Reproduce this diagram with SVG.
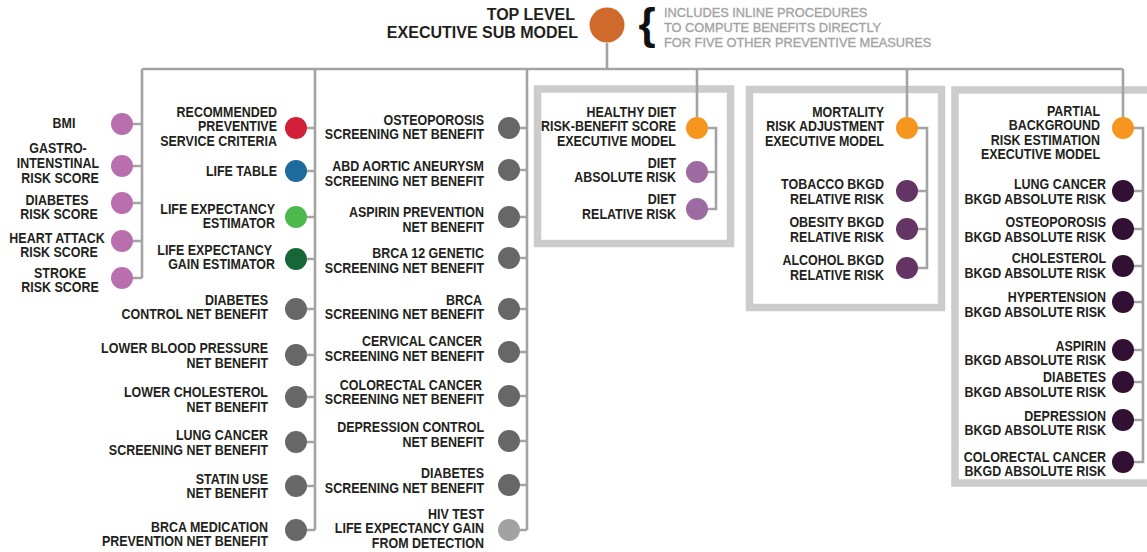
<svg xmlns="http://www.w3.org/2000/svg" width="1147" height="552" viewBox="0 0 1147 552">
  <style>
    text { font-family: "Liberation Sans", Arial, sans-serif; font-weight: bold; font-size: 14.5px; fill: #231f20; text-anchor: end;
           transform-box: fill-box; transform-origin: 100% 50%; transform: scaleX(0.86); }
    .mid { text-anchor: middle; transform-origin: 50% 50%; }
    .title { font-size: 16px; transform: none; }
    .note { font-weight: normal; font-size: 12.8px; fill: #a3a3a3; stroke: #a3a3a3; stroke-width: 0.35; text-anchor: start; transform: none; }
    .brace { font-weight: bold; font-size: 44px; fill: #111; text-anchor: middle; transform: none; }
    .conn { stroke: #a3a3a3; stroke-width: 2.6; fill: none; }
    .box { stroke: #cccccc; stroke-width: 7.5; fill: none; }
    .top { fill: #cf6a2c; }
    .pink { fill: #b96fae; }
    .red { fill: #d2203b; }
    .blue { fill: #1d6a9d; }
    .lgreen { fill: #4cb84d; }
    .dgreen { fill: #176637; }
    .gray { fill: #676767; }
    .lgray { fill: #a2a2a2; }
    .orange { fill: #f7961e; }
    .plum { fill: #9c6b9f; }
    .purple { fill: #633464; }
    .dark { fill: #321034; }
  </style>

  <!-- frames around the three executive sub-models -->
  <g id="frames">
    <rect class="box" x="537.5" y="89" width="193" height="154.5"/>
    <rect class="box" x="749.5" y="89.5" width="192" height="218"/>
    <rect class="box" x="955" y="90" width="230" height="393"/>
  </g>

  <!-- connectors -->
  <g id="connectors">
    <path class="conn" d="M607,43 V69 M142,69 H1123"/>
    <!-- column 1 -->
    <path class="conn" d="M142,69 V278 M133,124 H142 M133,166 H142 M133,203 H142 M133,241 H142 M133,278 H142"/>
    <!-- column 2 -->
    <path class="conn" d="M315,69 V530 M307,128 H315 M307,171 H315 M307,217 H315 M307,259 H315 M307,309 H315 M307,355 H315 M307,397 H315 M307,442 H315 M307,486 H315 M307,530 H315"/>
    <!-- column 3 -->
    <path class="conn" d="M527,69 V530 M520,128 H527 M520,170 H527 M520,217 H527 M520,258 H527 M520,309 H527 M520,352 H527 M520,396 H527 M520,441 H527 M520,485 H527 M520,530 H527"/>
    <!-- healthy diet -->
    <path class="conn" d="M697,69 V117 M708,128 H716 V209 H708 M708,172 H716"/>
    <!-- mortality -->
    <path class="conn" d="M907,69 V117 M918,128 H927 V268 H918 M918,191 H927 M918,229 H927"/>
    <!-- partial background -->
    <path class="conn" d="M1123,69 V117 M1134,128 H1143 V462 H1134 M1134,191 H1143 M1134,229 H1143 M1134,266 H1143 M1134,302 H1143 M1134,350 H1143 M1134,382 H1143 M1134,420 H1143"/>
  </g>

  <!-- top level -->
  <g id="top-level">
    <circle class="top" cx="607" cy="25" r="17.5"/>
    <text class="title" x="575" y="20">TOP LEVEL</text>
    <text class="title" x="578" y="38">EXECUTIVE SUB MODEL</text>
  </g>
  <g id="top-note">
    <text class="brace" x="647" y="39">{</text>
    <text class="note" x="664" y="17">INCLUDES INLINE PROCEDURES</text>
    <text class="note" x="664" y="32">TO COMPUTE BENEFITS DIRECTLY</text>
    <text class="note" x="664" y="47">FOR FIVE OTHER PREVENTIVE MEASURES</text>
  </g>

  <!-- column 1: risk scores -->
  <g id="bmi"><circle class="pink" cx="122" cy="124" r="11"/><text class="mid" x="64" y="128">BMI</text></g>
  <g id="gastro"><circle class="pink" cx="122" cy="166" r="11"/><text class="mid" x="58" y="153">GASTRO-</text><text class="mid" x="58" y="168">INTENSTINAL</text><text class="mid" x="60" y="183">RISK SCORE</text></g>
  <g id="diabetes-risk"><circle class="pink" cx="122" cy="203" r="11"/><text class="mid" x="57" y="205">DIABETES</text><text class="mid" x="59" y="219.5">RISK SCORE</text></g>
  <g id="heart-attack-risk"><circle class="pink" cx="122" cy="241" r="11"/><text class="mid" x="57" y="243">HEART ATTACK</text><text class="mid" x="59" y="257.5">RISK SCORE</text></g>
  <g id="stroke-risk"><circle class="pink" cx="122" cy="278" r="11"/><text class="mid" x="60" y="278">STROKE</text><text class="mid" x="60" y="292.5">RISK SCORE</text></g>

  <!-- column 2 -->
  <g id="recommended-criteria"><circle class="red" cx="296" cy="128" r="11"/><text x="277" y="117">RECOMMENDED</text><text x="277" y="131.5">PREVENTIVE</text><text x="277" y="146">SERVICE CRITERIA</text></g>
  <g id="life-table"><circle class="blue" cx="296" cy="171" r="11"/><text x="277" y="176">LIFE TABLE</text></g>
  <g id="le-estimator"><circle class="lgreen" cx="296" cy="217" r="11"/><text x="275" y="214">LIFE EXPECTANCY</text><text x="275" y="228.5">ESTIMATOR</text></g>
  <g id="le-gain-estimator"><circle class="dgreen" cx="296" cy="259" r="11"/><text x="272" y="255">LIFE EXPECTANCY</text><text x="275" y="269.5">GAIN ESTIMATOR</text></g>
  <g id="diabetes-control"><circle class="gray" cx="296" cy="309" r="11"/><text x="268" y="305">DIABETES</text><text x="268" y="319.5">CONTROL NET BENEFIT</text></g>
  <g id="lower-bp"><circle class="gray" cx="296" cy="355" r="11"/><text x="268" y="353.5">LOWER BLOOD PRESSURE</text><text x="268" y="368">NET BENEFIT</text></g>
  <g id="lower-cholesterol"><circle class="gray" cx="296" cy="397" r="11"/><text x="268" y="397.5">LOWER CHOLESTEROL</text><text x="268" y="412">NET BENEFIT</text></g>
  <g id="lung-screening"><circle class="gray" cx="296" cy="442" r="11"/><text x="268" y="440.5">LUNG CANCER</text><text x="268" y="455">SCREENING NET BENEFIT</text></g>
  <g id="statin-use"><circle class="gray" cx="296" cy="486" r="11"/><text x="268" y="484">STATIN USE</text><text x="268" y="498.5">NET BENEFIT</text></g>
  <g id="brca-medication"><circle class="gray" cx="296" cy="530" r="11"/><text x="268" y="532">BRCA MEDICATION</text><text x="268" y="546.5">PREVENTION NET BENEFIT</text></g>

  <!-- column 3 -->
  <g id="osteoporosis-screening"><circle class="gray" cx="509" cy="128" r="11"/><text x="484" y="125">OSTEOPOROSIS</text><text x="484" y="139.5">SCREENING NET BENEFIT</text></g>
  <g id="aaa-screening"><circle class="gray" cx="509" cy="170" r="11"/><text x="484" y="171.5">ABD AORTIC ANEURYSM</text><text x="484" y="186">SCREENING NET BENEFIT</text></g>
  <g id="aspirin-prevention"><circle class="gray" cx="509" cy="217" r="11"/><text x="484" y="217.5">ASPIRIN PREVENTION</text><text x="484" y="232">NET BENEFIT</text></g>
  <g id="brca12-screening"><circle class="gray" cx="509" cy="258" r="11"/><text x="484" y="258.5">BRCA 12 GENETIC</text><text x="484" y="273">SCREENING NET BENEFIT</text></g>
  <g id="brca-screening"><circle class="gray" cx="509" cy="309" r="11"/><text x="482" y="305">BRCA</text><text x="484" y="319.5">SCREENING NET BENEFIT</text></g>
  <g id="cervical-screening"><circle class="gray" cx="509" cy="352" r="11"/><text x="482" y="346.5">CERVICAL CANCER</text><text x="484" y="361">SCREENING NET BENEFIT</text></g>
  <g id="colorectal-screening"><circle class="gray" cx="509" cy="396" r="11"/><text x="482" y="390">COLORECTAL CANCER</text><text x="484" y="404.5">SCREENING NET BENEFIT</text></g>
  <g id="depression-control"><circle class="gray" cx="509" cy="441" r="11"/><text x="484" y="432.5">DEPRESSION CONTROL</text><text x="484" y="447">NET BENEFIT</text></g>
  <g id="diabetes-screening"><circle class="gray" cx="509" cy="485" r="11"/><text x="484" y="478.5">DIABETES</text><text x="484" y="493">SCREENING NET BENEFIT</text></g>
  <g id="hiv-test"><circle class="lgray" cx="509" cy="530" r="11"/><text x="484" y="519">HIV TEST</text><text x="484" y="533.5">LIFE EXPECTANCY GAIN</text><text x="484" y="548">FROM DETECTION</text></g>

  <!-- healthy diet sub-model -->
  <g id="healthy-diet"><circle class="orange" cx="697" cy="128" r="11"/><text x="676" y="117">HEALTHY DIET</text><text x="676" y="131.5">RISK-BENEFIT SCORE</text><text x="676" y="146">EXECUTIVE MODEL</text></g>
  <g id="diet-absolute"><circle class="plum" cx="697" cy="172" r="11"/><text x="676" y="168">DIET</text><text x="676" y="182.5">ABSOLUTE RISK</text></g>
  <g id="diet-relative"><circle class="plum" cx="697" cy="209" r="11"/><text x="676" y="204.5">DIET</text><text x="676" y="219">RELATIVE RISK</text></g>

  <!-- mortality sub-model -->
  <g id="mortality"><circle class="orange" cx="907" cy="128" r="11"/><text x="884" y="117">MORTALITY</text><text x="884" y="131.5">RISK ADJUSTMENT</text><text x="884" y="146">EXECUTIVE MODEL</text></g>
  <g id="tobacco"><circle class="purple" cx="907" cy="191" r="11"/><text x="884" y="189.5">TOBACCO BKGD</text><text x="884" y="204">RELATIVE RISK</text></g>
  <g id="obesity"><circle class="purple" cx="907" cy="229" r="11"/><text x="884" y="227.5">OBESITY BKGD</text><text x="884" y="242">RELATIVE RISK</text></g>
  <g id="alcohol"><circle class="purple" cx="907" cy="268" r="11"/><text x="884" y="265.5">ALCOHOL BKGD</text><text x="884" y="280">RELATIVE RISK</text></g>

  <!-- partial background sub-model -->
  <g id="partial-background"><circle class="orange" cx="1123" cy="128" r="11"/><text x="1100" y="116">PARTIAL</text><text x="1100" y="130.5">BACKGROUND</text><text x="1100" y="145">RISK ESTIMATION</text><text x="1100" y="159.5">EXECUTIVE MODEL</text></g>
  <g id="lung-bkgd"><circle class="dark" cx="1123" cy="191" r="11"/><text x="1106" y="189.5">LUNG CANCER</text><text x="1106" y="204">BKGD ABSOLUTE RISK</text></g>
  <g id="osteoporosis-bkgd"><circle class="dark" cx="1123" cy="229" r="11"/><text x="1106" y="227.5">OSTEOPOROSIS</text><text x="1106" y="242">BKGD ABSOLUTE RISK</text></g>
  <g id="cholesterol-bkgd"><circle class="dark" cx="1123" cy="266" r="11"/><text x="1106" y="263.5">CHOLESTEROL</text><text x="1106" y="278">BKGD ABSOLUTE RISK</text></g>
  <g id="hypertension-bkgd"><circle class="dark" cx="1123" cy="302" r="11"/><text x="1106" y="302.5">HYPERTENSION</text><text x="1106" y="317">BKGD ABSOLUTE RISK</text></g>
  <g id="aspirin-bkgd"><circle class="dark" cx="1123" cy="350" r="11"/><text x="1106" y="351">ASPIRIN</text><text x="1106" y="365.5">BKGD ABSOLUTE RISK</text></g>
  <g id="diabetes-bkgd"><circle class="dark" cx="1123" cy="382" r="11"/><text x="1106" y="382.5">DIABETES</text><text x="1106" y="397">BKGD ABSOLUTE RISK</text></g>
  <g id="depression-bkgd"><circle class="dark" cx="1123" cy="420" r="11"/><text x="1106" y="421">DEPRESSION</text><text x="1106" y="435.5">BKGD ABSOLUTE RISK</text></g>
  <g id="colorectal-bkgd"><circle class="dark" cx="1123" cy="462" r="11"/><text x="1106" y="462">COLORECTAL CANCER</text><text x="1106" y="476.5">BKGD ABSOLUTE RISK</text></g>
</svg>
